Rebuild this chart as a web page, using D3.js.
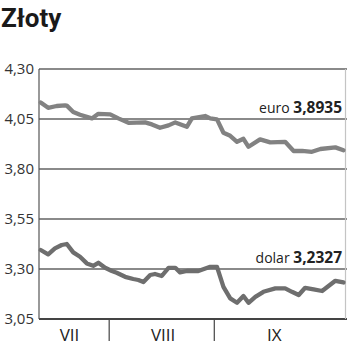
<!DOCTYPE html>
<html><head><meta charset="utf-8">
<script src="https://cdn.jsdelivr.net/npm/d3@7"></script>
<style>body{margin:0;background:#fff;}svg{display:block;}</style>
</head><body>
<script>
// Days counted from 11 July
const euroDays = [0.5,2.7,5.2,7.7,8.2,10.1,12.1,15.6,17.5,21.0,23.4,26.4,31.3,33.3,35.7,38.2,40.2,43.6,45.1,49.0,50.5,52.5,54.4,56.4,58.4,60.3,61.8,65.2,68.2,72.6,75.1,77.6,80.5,83.0,87.4,89.8];
const euroValues = [4.133,4.106,4.115,4.118,4.117,4.085,4.071,4.053,4.076,4.073,4.053,4.031,4.033,4.023,4.006,4.018,4.033,4.011,4.053,4.065,4.053,4.048,3.981,3.966,3.936,3.951,3.911,3.948,3.933,3.936,3.890,3.891,3.886,3.900,3.908,3.8935];
const dolarDays = [0.5,2.7,4.7,6.7,8.2,10.1,12.1,14.1,16.0,17.5,19.5,21.5,22.9,25.4,27.8,29.3,30.8,32.8,34.2,36.2,38.2,40.2,41.6,43.6,47.0,50.5,52.5,54.4,56.4,58.4,60.3,61.8,63.8,66.2,69.7,72.6,74.6,76.6,78.5,81.0,83.5,85.4,87.4,89.8];
const dolarValues = [3.395,3.373,3.403,3.420,3.425,3.383,3.361,3.328,3.316,3.331,3.306,3.290,3.281,3.261,3.250,3.245,3.235,3.270,3.275,3.265,3.306,3.306,3.283,3.290,3.290,3.311,3.311,3.211,3.153,3.131,3.165,3.131,3.161,3.186,3.203,3.203,3.186,3.170,3.206,3.198,3.190,3.215,3.241,3.2327];
const yTicks = [4.30,4.05,3.80,3.55,3.30,3.05];
const yTickLabels = ["4,30","4,05","3,80","3,55","3,30","3,05"];
const monthBounds = [20.7,51.7];
const monthLabels = ["VII","VIII","IX"];
const monthLabelDays = [9.0,36.6,69.4];
const seriesNames = ["euro","dolar"];
const seriesLast = ["3,8935","3,2327"];

const W=350,H=351;
const svg=d3.select("body").append("svg").attr("width",W).attr("height",H);
const mLeft=39,mRight=345.5,mTop=69,mBottom=319;
const x=d3.scaleLinear().domain([0,90.4]).range([mLeft,mRight]);
const y=d3.scaleLinear().domain([3.05,4.30]).range([mBottom,mTop]);

svg.append("text").attr("x",1).attr("y",27).text("Złoty")
  .attr("font-family","Roboto, 'Open Sans', sans-serif").attr("font-weight","bold")
  .attr("font-size",26).attr("fill","#1a1a1a");

// gridlines
svg.append("g").selectAll("line").data(yTicks).join("line")
  .attr("x1",mLeft).attr("x2",mRight+1).attr("y1",d=>y(d)).attr("y2",d=>y(d))
  .attr("stroke",(d,i)=>i===yTicks.length-1?"#444":"#8a8a8a").attr("stroke-width",1.2)
  .attr("shape-rendering","crispEdges");
// right border
svg.append("line").attr("x1",mRight).attr("x2",mRight).attr("y1",mTop).attr("y2",mBottom)
  .attr("stroke","#c4c4c4").attr("stroke-width",1.2);
// left axis
svg.append("line").attr("x1",mLeft).attr("x2",mLeft).attr("y1",mTop).attr("y2",mBottom)
  .attr("stroke","#555").attr("stroke-width",1.2);

svg.append("g").selectAll("text").data(yTicks).join("text")
  .attr("x",34).attr("y",d=>y(d)).attr("dy","0.35em").attr("text-anchor","end")
  .text((d,i)=>yTickLabels[i])
  .attr("font-family","'Open Sans', sans-serif").attr("font-size",15).attr("fill","#333");

// month boundaries
svg.append("g").selectAll("line").data(monthBounds).join("line")
  .attr("x1",d=>x(d)).attr("x2",d=>x(d)).attr("y1",mBottom).attr("y2",341)
  .attr("stroke","#444").attr("stroke-width",1.2);
svg.append("g").selectAll("text").data(monthLabels).join("text")
  .attr("x",(d,i)=>x(monthLabelDays[i])).attr("y",341).attr("text-anchor","middle")
  .text(d=>d).attr("font-family","'Open Sans', sans-serif").attr("font-size",17).attr("fill","#222");

const line=d3.line().x(d=>x(d[0])).y(d=>y(d[1])).curve(d3.curveLinear);
const series=[d3.zip(euroDays,euroValues),d3.zip(dolarDays,dolarValues)];
const colors=["#828282","#6e6e6e"];
svg.append("g").selectAll("path").data(series).join("path")
  .attr("d",line).attr("fill","none").attr("stroke",(d,i)=>colors[i])
  .attr("stroke-width",4.3).attr("stroke-linejoin","round").attr("stroke-linecap","round");

const labelY=[113,263];
seriesNames.forEach((n,i)=>{
  const t=svg.append("text").attr("x",342).attr("y",labelY[i]).attr("text-anchor","end")
    .attr("font-family","'Open Sans', sans-serif").attr("font-size",14).attr("fill","#222");
  t.append("tspan").text(n+" ");
  t.append("tspan").attr("font-weight","bold").attr("font-size",15.5).text(seriesLast[i]);
});
</script>
</body></html>
